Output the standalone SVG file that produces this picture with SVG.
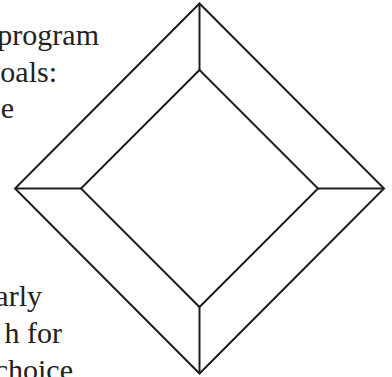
<svg xmlns="http://www.w3.org/2000/svg" width="392" height="377" viewBox="0 0 392 377">
<style>
.ln{fill:none;stroke:#1e1e1e;stroke-width:2;stroke-linejoin:miter}
.tx{font-family:"Liberation Serif","DejaVu Serif",serif;font-size:30px;fill:#222;text-anchor:end}
</style>
<rect width="392" height="377" fill="#fff"/>
<g id="text">
<text class="tx" x="99" y="45">program</text>
<text class="tx" x="57" y="81.5">goals:</text>
<text class="tx" x="14" y="118">e</text>
<text class="tx" x="42" y="306">arly</text>
<text class="tx" x="62" y="343">h for</text>
<text class="tx" x="73" y="380">choice</text>
</g>
<g id="outer">
<polygon class="ln" points="199.5,3.5 384,188.5 199.5,373.5 15,188.5"/>
</g>
<g id="inner">
<polygon class="ln" points="199.5,70 318,188.5 199.5,307 81,188.5"/>
</g>
<g id="connectors">
<line class="ln" x1="199.5" y1="3.5" x2="199.5" y2="70"/>
<line class="ln" x1="384" y1="188.5" x2="318" y2="188.5"/>
<line class="ln" x1="199.5" y1="373.5" x2="199.5" y2="307"/>
<line class="ln" x1="15" y1="188.5" x2="81" y2="188.5"/>
</g>
</svg>
